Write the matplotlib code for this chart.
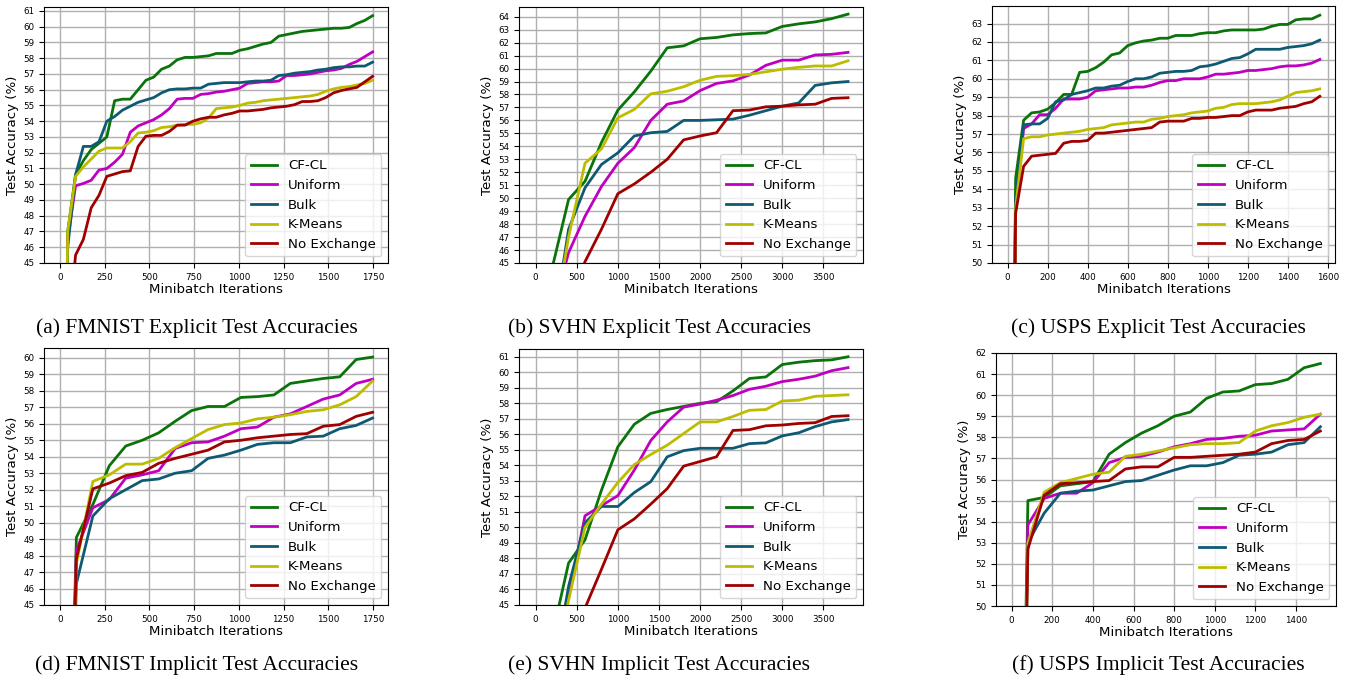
import numpy as np
import matplotlib.pyplot as plt

# iterations at which test accuracy was evaluated
iters_a = np.arange(41) * 43.7
iters_b = np.arange(20) * 200
iters_c = np.arange(40) * 40
iters_d = np.arange(20) * 92
iters_e = np.arange(20) * 200
iters_f = np.arange(20) * 80

labels = ['CF-CL', 'Uniform', 'Bulk', 'K-Means', 'No Exchange']
colors = ['#0a730a', '#c000c0', '#0f5a73', '#bdbd00', '#a00000']

# (a) FMNIST explicit
cfcl_a = [10, 47.0, 50.6, 51.5, 52.2, 52.6, 53.0, 55.3, 55.4, 55.4, 56.0, 56.6, 56.8, 57.3, 57.5, 57.9,
          58.05, 58.05, 58.1, 58.15, 58.3, 58.3, 58.3, 58.5, 58.6, 58.75, 58.9, 59.0, 59.4, 59.5, 59.6,
          59.7, 59.75, 59.8, 59.85, 59.9, 59.9, 59.95, 60.2, 60.4, 60.7]
unif_a = [10, 46.5, 49.9, 50.05, 50.25, 50.9, 51.0, 51.4, 51.9, 53.3, 53.7, 53.9, 54.1, 54.4, 54.8, 55.4,
          55.45, 55.45, 55.7, 55.75, 55.85, 55.9, 56.0, 56.1, 56.4, 56.45, 56.5, 56.5, 56.55, 56.9, 56.9,
          56.95, 57.0, 57.1, 57.2, 57.25, 57.35, 57.6, 57.8, 58.1, 58.4]
bulk_a = [10, 46.0, 50.6, 52.4, 52.4, 52.7, 54.0, 54.3, 54.7, 54.95, 55.2, 55.35, 55.5, 55.8, 56.0, 56.05,
          56.05, 56.1, 56.1, 56.35, 56.4, 56.45, 56.45, 56.45, 56.5, 56.55, 56.55, 56.6, 56.9, 56.95, 57.05,
          57.1, 57.15, 57.25, 57.3, 57.4, 57.45, 57.45, 57.5, 57.5, 57.75]
kmeans_a = [10, 47.0, 50.5, 51.1, 51.6, 52.1, 52.3, 52.3, 52.3, 52.7, 53.25, 53.3, 53.4, 53.6, 53.65, 53.75,
            53.8, 53.8, 53.9, 54.2, 54.8, 54.85, 54.9, 55.0, 55.15, 55.2, 55.3, 55.35, 55.4, 55.45, 55.5,
            55.55, 55.6, 55.7, 55.9, 56.05, 56.15, 56.2, 56.3, 56.4, 56.6]
noex_a = [10, 40.0, 45.5, 46.5, 48.5, 49.3, 50.5, 50.65, 50.8, 50.85, 52.4, 53.05, 53.1, 53.1, 53.35, 53.75,
          53.75, 54.0, 54.15, 54.25, 54.25, 54.4, 54.5, 54.65, 54.65, 54.7, 54.75, 54.85, 54.9, 54.95, 55.05,
          55.25, 55.25, 55.3, 55.5, 55.8, 55.95, 56.05, 56.15, 56.5, 56.85]

# (b) SVHN explicit
cfcl_b = [10, 44.6, 49.9, 51.3, 54.3, 56.8, 58.2, 59.8, 61.6, 61.75, 62.3, 62.4, 62.6, 62.7, 62.75, 63.25,
          63.45, 63.6, 63.85, 64.2]
unif_b = [10, 41.0, 45.8, 48.6, 50.9, 52.7, 53.9, 56.0, 57.25, 57.5, 58.3, 58.85, 59.05, 59.5, 60.25, 60.65,
          60.65, 61.05, 61.1, 61.25]
bulk_b = [10, 39.4, 47.6, 50.8, 52.6, 53.5, 54.8, 55.05, 55.15, 56.0, 56.0, 56.05, 56.1, 56.4, 56.75, 57.1,
          57.35, 58.7, 58.9, 59.0]
kmeans_b = [10, 39.5, 47.0, 52.7, 53.8, 56.2, 56.85, 58.05, 58.25, 58.6, 59.1, 59.4, 59.45, 59.55, 59.75, 59.95,
            60.1, 60.2, 60.2, 60.6]
noex_b = [10, 30.0, 42.0, 45.1, 47.6, 50.35, 51.1, 52.0, 53.0, 54.5, 54.8, 55.05, 56.75, 56.8, 57.05, 57.1,
          57.2, 57.25, 57.7, 57.75]

# (c) USPS explicit
cfcl_c = [10, 54.6, 57.75, 58.15, 58.2, 58.35, 58.7, 59.15, 59.15, 60.35, 60.4, 60.6, 60.9, 61.3, 61.4, 61.8,
          61.95, 62.05, 62.1, 62.2, 62.2, 62.35, 62.35, 62.35, 62.45, 62.5, 62.5, 62.6, 62.65, 62.65, 62.65,
          62.65, 62.7, 62.85, 62.95, 62.95, 63.2, 63.25, 63.25, 63.45]
unif_c = [10, 53.0, 57.3, 57.55, 58.05, 58.05, 58.4, 58.9, 58.9, 58.9, 59.0, 59.35, 59.4, 59.45, 59.5, 59.5,
          59.55, 59.55, 59.65, 59.8, 59.9, 59.9, 60.0, 60.0, 60.0, 60.1, 60.25, 60.25, 60.3, 60.35, 60.45,
          60.45, 60.5, 60.55, 60.65, 60.7, 60.7, 60.75, 60.85, 61.05]
bulk_c = [10, 53.5, 57.5, 57.55, 57.55, 57.85, 58.75, 58.85, 59.15, 59.25, 59.35, 59.5, 59.5, 59.6, 59.65, 59.85,
          60.0, 60.0, 60.1, 60.3, 60.35, 60.4, 60.4, 60.45, 60.65, 60.7, 60.8, 60.95, 61.1, 61.15, 61.35,
          61.6, 61.6, 61.6, 61.6, 61.7, 61.75, 61.8, 61.9, 62.1]
kmeans_c = [10, 53.0, 56.75, 56.85, 56.85, 56.95, 57.0, 57.05, 57.1, 57.15, 57.25, 57.3, 57.35, 57.5, 57.55, 57.6,
            57.65, 57.65, 57.8, 57.85, 57.95, 58.0, 58.05, 58.15, 58.2, 58.25, 58.4, 58.45, 58.6, 58.65, 58.65,
            58.65, 58.7, 58.75, 58.85, 59.05, 59.25, 59.3, 59.35, 59.45]
noex_c = [10, 52.7, 55.25, 55.8, 55.85, 55.9, 55.95, 56.5, 56.6, 56.6, 56.65, 57.05, 57.05, 57.1, 57.15, 57.2,
          57.25, 57.3, 57.35, 57.65, 57.7, 57.7, 57.7, 57.85, 57.85, 57.9, 57.9, 57.95, 58.0, 58.0, 58.2,
          58.3, 58.3, 58.3, 58.4, 58.45, 58.5, 58.65, 58.75, 59.05]

# (d) FMNIST implicit
cfcl_d = [10, 49.1, 51.1, 53.45, 54.65, 55.0, 55.45, 56.15, 56.8, 57.05, 57.05, 57.6, 57.65, 57.75, 58.45, 58.6,
          58.75, 58.85, 59.9, 60.05]
unif_d = [10, 48.3, 50.9, 51.4, 52.7, 52.9, 53.15, 54.5, 54.85, 54.9, 55.25, 55.7, 55.8, 56.4, 56.6, 57.05,
          57.5, 57.75, 58.45, 58.7]
bulk_d = [10, 46.3, 50.4, 51.45, 52.0, 52.55, 52.65, 53.0, 53.15, 53.9, 54.1, 54.4, 54.75, 54.85, 54.85, 55.2,
          55.25, 55.7, 55.9, 56.35]
kmeans_d = [10, 47.5, 52.5, 52.9, 53.55, 53.55, 53.9, 54.55, 55.1, 55.65, 55.95, 56.05, 56.3, 56.4, 56.55, 56.75,
            56.85, 57.15, 57.65, 58.6]
noex_d = [10, 47.8, 52.05, 52.4, 52.85, 53.05, 53.6, 53.9, 54.15, 54.4, 54.9, 55.0, 55.15, 55.25, 55.35, 55.4,
          55.85, 55.95, 56.45, 56.7]

# (e) SVHN implicit
cfcl_e = [10, 43.0, 47.7, 49.2, 52.4, 55.2, 56.65, 57.35, 57.6, 57.8, 58.0, 58.1, 58.8, 59.6, 59.7, 60.5,
          60.65, 60.75, 60.8, 61.0]
unif_e = [10, 41.0, 45.5, 50.75, 51.4, 52.05, 53.7, 55.6, 56.8, 57.75, 57.95, 58.2, 58.5, 58.9, 59.1, 59.4,
          59.55, 59.75, 60.1, 60.3]
bulk_e = [10, 40.0, 46.2, 50.3, 51.35, 51.35, 52.25, 52.95, 54.55, 54.95, 55.1, 55.1, 55.1, 55.4, 55.45, 55.9,
          56.1, 56.5, 56.8, 56.95]
kmeans_e = [10, 40.0, 45.3, 50.0, 51.5, 52.9, 54.05, 54.7, 55.3, 56.05, 56.8, 56.8, 57.15, 57.55, 57.6, 58.15,
            58.2, 58.45, 58.5, 58.55]
noex_e = [10, 30.0, 40.0, 44.8, 47.3, 49.85, 50.55, 51.5, 52.5, 53.95, 54.25, 54.55, 56.25, 56.3, 56.55, 56.6,
          56.7, 56.75, 57.15, 57.2]

# (f) USPS implicit
cfcl_f = [10, 55.0, 55.15, 55.7, 55.8, 55.9, 57.2, 57.75, 58.2, 58.55, 59.0, 59.2, 59.85, 60.15, 60.2, 60.5,
          60.55, 60.75, 61.3, 61.5]
unif_f = [10, 53.85, 55.1, 55.35, 55.35, 55.85, 56.8, 57.05, 57.1, 57.3, 57.55, 57.7, 57.9, 57.95, 58.05, 58.1,
          58.3, 58.35, 58.4, 59.1]
bulk_f = [10, 53.0, 54.4, 55.35, 55.45, 55.5, 55.7, 55.9, 55.95, 56.2, 56.45, 56.65, 56.65, 56.8, 57.15, 57.2,
          57.3, 57.65, 57.75, 58.5]
kmeans_f = [10, 53.0, 55.4, 55.85, 56.05, 56.25, 56.35, 57.1, 57.2, 57.35, 57.5, 57.65, 57.7, 57.7, 57.75, 58.3,
            58.55, 58.7, 58.95, 59.1]
noex_f = [10, 52.7, 55.25, 55.8, 55.85, 55.9, 55.95, 56.5, 56.6, 56.6, 57.05, 57.05, 57.1, 57.15, 57.2, 57.3,
          57.7, 57.85, 57.9, 58.3]

W, H = 1351, 685
fig = plt.figure(figsize=(W / 100, H / 100), dpi=100)


def panel(box, iters, series, xlim, ylim, xticks, yticks):
    l, t, r, b = box
    ax = fig.add_axes([l / W, 1 - b / H, (r - l) / W, (b - t) / H])
    for ys, lab, col in zip(series, labels, colors):
        ax.plot(iters, ys, color=col, lw=2, label=lab)
    ax.set_xlim(*xlim)
    ax.set_ylim(*ylim)
    ax.set_xticks(xticks)
    ax.set_yticks(yticks)
    ax.grid(True, color='#b0b0b0', lw=1.0)
    ax.tick_params(labelsize=6.3)
    ax.set_xlabel('Minibatch Iterations', fontsize=9.6, labelpad=1)
    ax.set_ylabel('Test Accuracy (%)', fontsize=9.6, labelpad=3)
    ax.legend(loc='lower right', fontsize=9.6, labelspacing=0.5)
    return ax


panel((44, 7, 388, 263), iters_a, [cfcl_a, unif_a, bulk_a, kmeans_a, noex_a],
      (-89, 1834), (45, 61.25), range(0, 1751, 250), range(45, 62))
panel((519, 7, 863, 263), iters_b, [cfcl_b, unif_b, bulk_b, kmeans_b, noex_b],
      (-203, 3982), (45, 64.75), range(0, 3501, 500), range(45, 65))
panel((992, 6, 1335, 263), iters_c, [cfcl_c, unif_c, bulk_c, kmeans_c, noex_c],
      (-78, 1636), (50, 63.95), range(0, 1601, 200), range(50, 64))
panel((44, 348, 388, 605), iters_d, [cfcl_d, unif_d, bulk_d, kmeans_d, noex_d],
      (-89, 1834), (45, 60.6), range(0, 1751, 250), range(45, 61))
panel((519, 349, 863, 605), iters_e, [cfcl_e, unif_e, bulk_e, kmeans_e, noex_e],
      (-203, 3982), (45, 61.5), range(0, 3501, 500), range(45, 62))
panel((996, 353, 1336, 606), iters_f, [cfcl_f, unif_f, bulk_f, kmeans_f, noex_f],
      (-77, 1597), (50, 62), range(0, 1401, 200), range(50, 63))

captions = ['(a) FMNIST Explicit Test Accuracies', '(b) SVHN Explicit Test Accuracies',
            '(c) USPS Explicit Test Accuracies', '(d) FMNIST Implicit Test Accuracies',
            '(e) SVHN Implicit Test Accuracies', '(f) USPS Implicit Test Accuracies']
cap_x = [197, 660, 1158, 197, 659, 1158]
cap_y = [328, 328, 328, 665, 665, 665]
for txt, cx, cy in zip(captions, cap_x, cap_y):
    fig.text(cx / W, 1 - cy / H, txt, ha='center', va='center',
             fontsize=15.5, family='Liberation Serif')

fig.savefig('out.png', dpi=100)
